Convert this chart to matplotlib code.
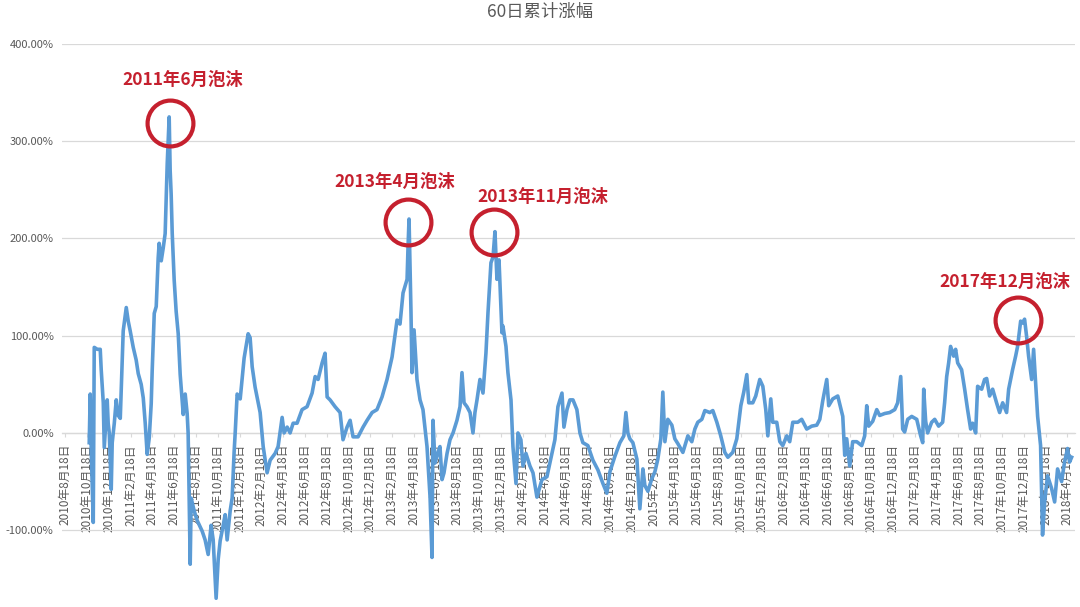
import pandas as pd
import matplotlib
matplotlib.use("Agg")
import matplotlib.pyplot as plt

plt.rcParams["font.family"] = ["Noto Sans CJK SC", "DejaVu Sans"]

# x = months after 2010-08-18, y = 60-day cumulative change in %
t_2010 = [2.20, 2.29, 2.39, 2.57, 2.66, 2.94, 3.21, 3.30, 3.49, 3.58, 3.85, 3.94, 4.04, 4.22, 4.31]
v_2010 = [-10, 40, -20, -92, 88, 86, 86, 65, 31, -15, 34, 10, 0, -58, -10]

t_2011 = [4.50, 4.68, 4.86, 5.05, 5.32, 5.60, 5.78, 5.96, 6.24, 6.51, 6.70, 6.97, 7.16, 7.34,
          7.52, 7.71, 7.89, 7.98, 8.17, 8.35, 8.53, 8.62, 8.81, 8.99, 9.17, 9.36, 9.54, 9.63,
          9.72, 9.82, 10.00, 10.18, 10.37, 10.55, 10.64, 10.83, 11.01, 11.19, 11.28, 11.47,
          11.56, 11.83, 12.11, 12.57, 12.84, 13.12, 13.39, 13.58, 13.85, 14.04, 14.22, 14.50,
          14.68, 14.86, 15.14, 15.32, 15.50, 15.60, 15.78, 16.06]
v_2011 = [10, 34, 18, 15, 105, 129, 115, 105, 88, 75, 61, 50, 36, 10,
          -22, -5, 30, 64, 123, 130, 180, 195, 177, 190, 205, 277, 325, 270,
          246, 205, 157, 125, 102, 60, 47, 19, 40, 20, 0, -135,
          -67, -80, -90, -101, -110, -125, -95, -110, -170, -130, -111, -95,
          -84, -110, -80, -67, -20, 0, 40, 35]

t_2012 = [16.42, 16.79, 16.97, 17.16, 17.43, 17.89, 18.17, 18.53, 18.81, 19.27, 19.54, 19.91,
          20.09, 20.37, 20.64, 20.92, 21.28, 21.74, 22.20, 22.66, 22.94, 23.21, 23.58, 23.85,
          24.04, 24.31, 24.77, 25.23, 25.50, 25.87, 26.15, 26.42, 26.88, 27.34, 27.71, 28.17]
v_2012 = [77, 102, 98, 68, 47, 21, -14, -41, -28, -21, -14, 16,
          0, 6, 0, 10, 10, 24, 27, 41, 58, 55, 72, 82,
          37, 34, 27, 21, -7, 6, 13, -4, -4, 6, 13, 21]

t_2013 = [28.62, 29.08, 29.54, 30.00, 30.46, 30.73, 31.01, 31.38, 31.47, 31.56, 31.74, 31.83,
          32.02, 32.29, 32.57, 32.84, 33.21, 33.49, 33.67, 33.76, 33.94, 34.22, 34.40, 34.59,
          34.77, 35.05, 35.32, 35.60, 35.96, 36.24, 36.42, 36.61, 36.88, 37.16, 37.43, 37.61,
          37.80, 38.07, 38.35, 38.62, 38.81, 39.08, 39.27, 39.45, 39.63, 39.82, 40.09, 40.18]
v_2013 = [24, 37, 55, 78, 116, 112, 144, 158, 192, 220, 124, 62,
          106, 55, 34, 24, -14, -66, -128, 13, -31, -20, -14, -48,
          -41, -21, -7, 0, 13, 27, 62, 31, 27, 21, 0, 21,
          34, 55, 41, 82, 124, 175, 181, 207, 158, 178, 103, 110]

t_2014 = [40.46, 40.64, 40.92, 41.10, 41.38, 41.56, 41.83, 42.02, 42.29, 42.66, 42.94, 43.30,
          43.76, 44.22, 44.68, 44.95, 45.23, 45.60, 45.78, 46.06, 46.33, 46.61, 46.97, 47.25,
          47.52, 47.98, 48.44, 48.90, 49.36, 49.72, 50.00, 50.46, 50.92, 51.28, 51.47, 51.65,
          51.83, 52.11]
v_2014 = [89, 62, 34, -14, -52, 0, -7, -34, -21, -34, -41, -66,
          -48, -45, -21, -7, 27, 41, 6, 24, 34, 34, 24, 0,
          -10, -13, -28, -38, -52, -62, -40, -24, -10, -3, 21, 0,
          -6, -10]

t_2015 = [52.48, 52.75, 53.03, 53.21, 53.49, 53.85, 54.13, 54.40, 54.68, 54.86, 55.05, 55.32,
          55.69, 55.96, 56.24, 56.70, 57.16, 57.52, 57.80, 58.07, 58.44, 58.72, 59.17, 59.45,
          59.82, 60.18, 60.55, 60.83, 61.28, 61.65, 62.02, 62.29, 62.57, 62.75, 63.12, 63.39,
          63.76, 64.04, 64.31]
v_2015 = [-27, -78, -37, -54, -60, -47, -40, -27, -6, 42, -9, 14,
          8, -6, -11, -20, -3, -9, 4, 11, 14, 23, 21, 23,
          11, -3, -20, -25, -20, -6, 28, 42, 60, 31, 31, 38,
          55, 48, 24]

t_2016 = [64.50, 64.77, 64.95, 65.32, 65.60, 65.87, 66.24, 66.51, 66.79, 67.25, 67.61, 68.07,
          68.53, 68.99, 69.27, 69.54, 69.91, 70.09, 70.46, 70.92, 71.38, 71.56, 71.74, 72.02,
          72.29, 72.66, 73.12, 73.39, 73.58, 73.76, 74.13, 74.50, 74.77, 75.23, 75.69, 76.15]
v_2016 = [-3, 35, 11, 11, -9, -13, -3, -9, 11, 11, 14, 4,
          7, 8, 14, 33, 55, 28, 35, 38, 17, -23, -6, -34,
          -9, -9, -13, -3, 28, 7, 12, 24, 18, 20, 21, 24]

t_2017 = [76.42, 76.70, 76.88, 77.06, 77.34, 77.71, 78.17, 78.53, 78.72, 78.81, 78.99, 79.17,
          79.54, 79.82, 80.18, 80.55, 80.73, 80.92, 81.10, 81.28, 81.56, 81.74, 81.93, 82.29,
          82.57, 82.84, 83.12, 83.30, 83.58, 83.76, 84.13, 84.40, 84.59, 84.86, 85.14, 85.50,
          85.78, 86.06, 86.42, 86.61, 86.97, 87.25, 87.43, 87.71, 87.89, 88.07, 88.26]
v_2017 = [31, 58, 4, 1, 14, 17, 14, -3, -10, 45, 12, 0,
          11, 14, 7, 11, 31, 58, 72, 89, 79, 86, 72, 65,
          45, 24, 4, 10, 0, 48, 45, 55, 56, 38, 45, 31,
          21, 31, 21, 45, 65, 79, 89, 115, 113, 117, 99]

t_2018 = [88.44, 88.72, 88.90, 89.08, 89.27, 89.54, 89.72, 89.91, 90.18, 90.55, 90.83, 91.10,
          91.47, 91.74, 92.02, 92.20, 92.39]
v_2018 = [79, 55, 86, 52, 17, -13, -105, -71, -44, -57, -71, -37,
          -50, -30, -16, -30, -25]

# bubbles marked on the chart: circle centre (months, %) and label
bubble_labels = ["2011年6月泡沫", "2013年4月泡沫", "2013年11月泡沫", "2017年12月泡沫"]
bubble_t = [9.63, 31.47, 39.36, 87.5]
bubble_v = [319, 217, 207, 116]

tick_dates = pd.date_range("2010-08-18", "2018-04-18", freq=pd.DateOffset(months=2))
tick_labels = [f"{d.year}年{d.month}月{d.day}日" for d in tick_dates]
tick_pos = [2 * i for i in range(len(tick_dates))]

t_all = t_2010 + t_2011 + t_2012 + t_2013 + t_2014 + t_2015 + t_2016 + t_2017 + t_2018
v_all = v_2010 + v_2011 + v_2012 + v_2013 + v_2014 + v_2015 + v_2016 + v_2017 + v_2018

GRAY = "#595959"
GRID = "#D9D9D9"
BLUE = "#5B9BD5"
RED = "#C5202E"

fig = plt.figure(figsize=(10.8, 6.07), dpi=100)
ax = fig.add_axes([62 / 1080, 0.0, (1075 - 62) / 1080, 1 - 44 / 607])

# spine position first: moving it resets the tick settings
for side in ["left", "right", "top"]:
    ax.spines[side].set_visible(False)
ax.spines["bottom"].set_position(("data", 0))
ax.spines["bottom"].set_color(GRID)
ax.spines["bottom"].set_linewidth(0.9)

ax.plot(t_all, v_all, color=BLUE, linewidth=2.6, zorder=3)

ax.set_xlim(-0.3, 92.7)
ax.set_ylim(-179, 400)

yt = [-100, 0, 100, 200, 300, 400]
ax.set_yticks(yt)
ax.set_yticklabels([f"{v:.2f}%" for v in yt])
ax.yaxis.grid(True, color=GRID, linewidth=0.9)
ax.tick_params(axis="y", length=0, pad=6, labelsize=8, labelcolor=GRAY)

ax.set_xticks(tick_pos)
ax.set_xticklabels(tick_labels, rotation=90, va="top", ha="center")
ax.tick_params(axis="x", length=3, direction="out", color=GRID, pad=5,
               labelsize=8.5, labelcolor=GRAY)

# red circles and bubble labels
text_offsets = [(13, 43), (-13, 40), (49, 35), (-13, 38)]
for lab, bt, bv, off in zip(bubble_labels, bubble_t, bubble_v, text_offsets):
    ax.plot(bt, bv, marker="o", markersize=33, markerfacecolor="none",
            markeredgecolor=RED, markeredgewidth=3, zorder=4)
    ax.annotate(lab, xy=(bt, bv), xytext=off, textcoords="offset pixels",
                ha="center", va="center", fontsize=12.5, fontweight="bold",
                color=RED, zorder=5)

fig.text(0.5, 1 - 12 / 607, "60日累计涨幅", ha="center", va="center",
         fontsize=12.5, color=GRAY)

fig.savefig("out.png", dpi=100)
